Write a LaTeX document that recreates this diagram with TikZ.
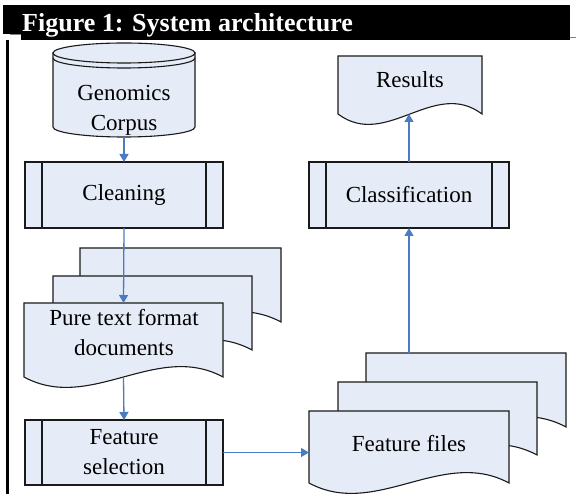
\documentclass[tikz,border=0pt]{standalone}
\usepackage{fontspec}
\setmainfont{Liberation Serif}
\usetikzlibrary{arrows.meta}
\definecolor{boxfill}{HTML}{E6ECF7}
\definecolor{arrowblue}{HTML}{4A7CC6}
\definecolor{edgecol}{HTML}{1A1A1A}
\tikzset{
 shp/.style={draw=edgecol, fill=boxfill, line width=1.1pt, line join=miter},
 inner/.style={draw=edgecol, line width=1.1pt},
 lbl/.style={font=\rmfamily\fontsize{23}{30}\selectfont, align=center, inner sep=0pt, text=black},
 conn/.style={draw=arrowblue, line width=1.3pt, -{Triangle[length=8pt,width=9pt]}},
 frame/.style={draw=none, fill=none, inner sep=0pt, outer sep=0pt, anchor=north west},
}
\newcommand\docshape[5]{%
 \path[shp] (#2,#3) -- (#4,#3) -- (#4,#5) .. controls +({-(#4-#2)/3},-36) and +({(#4-#2)/3},36) .. (#2,#5) -- cycle;
 \node[frame, minimum width={#4-#2}, minimum height={#5-#3}] (#1) at (#2,#3) {};}
\newcommand\procbox[5]{%
 \node[frame, shp, minimum width={#4-#2}, minimum height={#5-#3}] (#1) at (#2,#3) {};
 \draw[inner] ([xshift=17pt]#1.north west) -- ([xshift=17pt]#1.south west)
              ([xshift=-17pt]#1.north east) -- ([xshift=-17pt]#1.south east);}
\begin{document}
\begin{tikzpicture}[x=1pt,y=-1pt]
\useasboundingbox[fill=white] (0,0) rectangle (576,494);
% title bar and frame
\fill[black] (3,5) rectangle (570,40);
\fill[white] (3,34) rectangle (21,40);
\draw[gray, line width=0.8pt] (10,34.5) -- (21,34.5);
\draw[gray, line width=0.8pt] (570,37.5) -- (576,37.5);
\fill[black] (6,40) rectangle (9,494);
\node[anchor=base west, text=white, font=\rmfamily\bfseries\fontsize{26}{30}\selectfont, inner sep=0pt] (title) at (22,32) {Figure 1: System architecture};
% cylinder
\path[shp] (53,53) -- (53,127) arc[start angle=180, end angle=0, x radius=71, y radius=10] -- (195,53) -- cycle;
\path[shp] (124,53) ellipse[x radius=71, y radius=10];
\draw[inner] (53,58) arc[start angle=180, end angle=0, x radius=71, y radius=10];
\node[frame, minimum width=142, minimum height=94] (corpus) at (53,43) {};
\node[lbl] (corpustxt) at (124,110) {Genomics\\Corpus};
% process boxes
\procbox{clean}{25}{162}{223}{228}
\node[lbl] (cleantxt) at (clean.center) {Cleaning};
\procbox{fsel}{25}{420}{223}{485}
\node[lbl] (fseltxt) at (fsel.center) {Feature\\selection};
\procbox{class}{309}{162}{509}{228}
\node[lbl] (classtxt) at (class.center) {Classification};
% documents
\docshape{pb}{80}{248}{281}{322}
\docshape{pm}{53}{276}{252}{350}
\docshape{pf}{24}{303}{223}{377}
\node[lbl] (pftxt) at (124,333) {Pure text format\\documents};
\docshape{fb}{366}{353}{566}{427}
\docshape{fm}{338}{382}{537}{455}
\docshape{ff}{309}{411}{509}{483}
\node[lbl] (fftxt) at (409,444) {Feature files};
\docshape{res}{338}{56}{482}{114}
\node[lbl] (restxt) at (410,80) {Results};
% connectors
\draw[conn] (corpus.south) -- (clean.north);
\draw[conn] (clean.south) -- (pf.north);
\draw[conn] (pf.south) -- (fsel.north);
\draw[conn] (fsel.east) -- (fsel.east -| ff.west);
\draw[conn] (class.south |- fb.north) -- (class.south);
\draw[conn] (class.north) -- (class.north |- res.south);
\end{tikzpicture}
\end{document}
